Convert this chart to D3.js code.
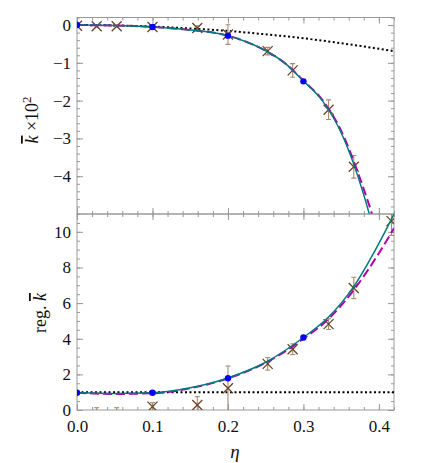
<!DOCTYPE html>
<html>
<head>
<meta charset='utf-8'>
<title>k bar vs eta</title>
<script src='https://d3js.org/d3.v7.min.js'></script>
<style>
  body { margin: 0; background: #fff; }
  svg text { font-family: 'Liberation Serif', 'DejaVu Serif', serif; fill: #111; }
</style>
</head>
<body>
<div id="container"></div>
<script>

// ******* Data *******
// top panel : kbar x 10^2
var topCurveEta   = [0, 0.05, 0.1, 0.15, 0.2, 0.225, 0.25, 0.275, 0.3, 0.325, 0.35, 0.367, 0.38, 0.39, 0.4];
var topTeal       = [0, -0.01, -0.05, -0.13, -0.28, -0.45, -0.68, -1.0, -1.48, -2.0, -2.85, -3.7, -4.5, -5.2, -6.0];
var topMagenta    = [0, -0.01, -0.05, -0.13, -0.28, -0.45, -0.68, -1.0, -1.47, -1.98, -2.8, -3.62, -4.35, -4.95, -5.7];
var topDotEta     = [0, 0.05, 0.1, 0.15, 0.2, 0.25, 0.3, 0.35, 0.42];
var topDotted     = [0, -0.01, -0.04, -0.09, -0.155, -0.245, -0.35, -0.48, -0.69];

// bottom panel : regularised kbar
var botCurveEta   = [0, 0.05, 0.1, 0.15, 0.2, 0.25, 0.3, 0.333, 0.367, 0.4, 0.42];
var botTeal       = [0.97, 0.93, 0.97, 1.25, 1.8, 2.68, 4.07, 5.2, 6.95, 9.35, 11.0];
var botMagenta    = [0.97, 0.9, 0.94, 1.22, 1.78, 2.65, 4.0, 5.1, 6.75, 8.8, 10.2];
var botDotEta     = [0, 0.42];
var botDotted     = [1, 1];

// blue points
var blueEta       = [0, 0.1, 0.2, 0.3];
var blueTop       = [0, -0.05, -0.28, -1.49];
var blueBot       = [0.97, 0.97, 1.78, 4.07];

// brown crosses with error bars
var crossEtaTop   = [0, 0.0261, 0.0526, 0.1, 0.1594, 0.2, 0.2526, 0.2857, 0.3333, 0.3667];
var crossTop      = [-0.02, -0.03, -0.03, -0.05, -0.08, -0.25, -0.69, -1.2, -2.24, -3.75];
var crossTopErr   = [0.02, 0.02, 0.02, 0.04, 0.06, 0.26, 0.1, 0.18, 0.26, 0.3];
var crossEtaBot   = [0.0261, 0.0526, 0.1, 0.1594, 0.2, 0.2526, 0.2857, 0.3333, 0.3667, 0.4167];
var crossBot      = [-0.5, -0.5, 0.19, 0.28, 1.22, 2.59, 3.41, 4.82, 6.85, 10.6];
var crossBotErr   = [0.63, 0.63, 0.22, 0.47, 1.25, 0.35, 0.3, 0.3, 0.6, 0.8];

var xTicks    = [0.0, 0.1, 0.2, 0.3, 0.4];
var topYTicks = [0, -1, -2, -3, -4];
var botYTicks = [0, 2, 4, 6, 8, 10];

// ******* Constants *******
const width = 436, height = 463;
const plotLeft = 77, plotRight = 394, plotTop = 17.5, plotMid = 214, plotBottom = 410;
const teal = "#007b7b", magenta = "#b000b0", brown = "#6b4426", errColor = "#a48c70", frameColor = "#999";
const serif = "'Liberation Serif', 'DejaVu Serif', serif";

var svg = d3.select("#container").append("svg")
  .attr("width", width).attr("height", height);

var x = d3.scaleLinear().domain([0, 0.42]).range([plotLeft, plotRight]);
var yTop = d3.scaleLinear().domain([-5, 0.2]).range([plotMid, plotTop]);
var yBot = d3.scaleLinear().domain([0, 11]).range([plotBottom, plotMid]);

function zip(a, b) { return a.map(function(v, i) { return [v, b[i]]; }); }

function steps(a, b, s) { return d3.range(Math.round((b - a) / s) + 1).map(function(i) { return +(a + i * s).toFixed(4); }); }

function panel(id, y, y0, y1, yMajor, yMinorStep, showX) {
  var g = svg.append("g");
  // clip
  svg.append("clipPath").attr("id", id)
    .append("rect").attr("x", plotLeft).attr("y", y0).attr("width", plotRight - plotLeft).attr("height", y1 - y0);

  var xMinor = steps(0, 0.42, 0.02);
  var yDom = y.domain();
  var yMinor = steps(Math.ceil(yDom[0] / yMinorStep) * yMinorStep, Math.floor(yDom[1] / yMinorStep) * yMinorStep, yMinorStep);

  // minor ticks
  g.append("g").attr("transform", `translate(0,${y1})`)
    .call(d3.axisBottom(x).tickValues(xMinor).tickSize(-3).tickFormat(""));
  g.append("g").attr("transform", `translate(0,${y0})`)
    .call(d3.axisTop(x).tickValues(xMinor).tickSize(-3).tickFormat(""));
  g.append("g").attr("transform", `translate(${plotLeft},0)`)
    .call(d3.axisLeft(y).tickValues(yMinor).tickSize(-3).tickFormat(""));
  g.append("g").attr("transform", `translate(${plotRight},0)`)
    .call(d3.axisRight(y).tickValues(yMinor).tickSize(-3).tickFormat(""));

  // major ticks
  g.append("g").attr("transform", `translate(0,${y1})`)
    .call(d3.axisBottom(x).tickValues(xTicks).tickSize(-6).tickPadding(10)
      .tickFormat(showX ? d3.format(".1f") : ""));
  g.append("g").attr("transform", `translate(0,${y0})`)
    .call(d3.axisTop(x).tickValues(xTicks).tickSize(-6).tickFormat(""));
  g.append("g").attr("transform", `translate(${plotLeft},0)`)
    .call(d3.axisLeft(y).tickValues(yMajor).tickSize(-6).tickPadding(6).tickFormat(d3.format("d")));
  g.append("g").attr("transform", `translate(${plotRight},0)`)
    .call(d3.axisRight(y).tickValues(yMajor).tickSize(-6).tickFormat(""));

  g.selectAll(".domain").remove();
  g.selectAll("g").attr("font-family", serif).attr("font-size", 17);
  g.selectAll(".tick line").attr("stroke", frameColor);
  g.selectAll(".tick text").attr("fill", "#111");

  // frame
  g.append("rect").attr("x", plotLeft).attr("y", y0).attr("width", plotRight - plotLeft).attr("height", y1 - y0)
    .attr("fill", "none").attr("stroke", frameColor).attr("stroke-width", 1);

  return svg.append("g").attr("clip-path", `url(#${id})`);
}

function drawLine(plot, y, xs, ys, color, w, dash) {
  var line = d3.line().x(function(d) { return x(d[0]); }).y(function(d) { return y(d[1]); })
    .curve(d3.curveMonotoneX);
  plot.append("path").datum(zip(xs, ys))
    .attr("d", line).attr("fill", "none").attr("stroke", color).attr("stroke-width", w)
    .attr("stroke-dasharray", dash || null);
}

function drawCrosses(plot, y, xs, ys, errs) {
  var data = xs.map(function(v, i) { return { x: v, y: ys[i], e: errs[i] }; });
  var eg = plot.append("g").attr("stroke", errColor).attr("stroke-width", 1.1).attr("fill", "none");
  data.forEach(function(d) {
    var cx = x(d.x), hi = y(d.y + d.e), lo = y(d.y - d.e);
    eg.append("line").attr("x1", cx).attr("x2", cx).attr("y1", hi).attr("y2", lo);
    eg.append("line").attr("x1", cx - 2.5).attr("x2", cx + 2.5).attr("y1", hi).attr("y2", hi);
    eg.append("line").attr("x1", cx - 2.5).attr("x2", cx + 2.5).attr("y1", lo).attr("y2", lo);
  });
  plot.selectAll(null).data(data).enter().append("path")
    .attr("transform", function(d) { return `translate(${x(d.x)},${y(d.y)})`; })
    .attr("d", "M-5,-5L5,5M-5,5L5,-5")
    .attr("stroke", brown).attr("stroke-width", 1.3).attr("fill", "none");
}

function drawBlue(plot, y, xs, ys) {
  plot.selectAll(null).data(zip(xs, ys)).enter().append("circle")
    .attr("cx", function(d) { return x(d[0]); }).attr("cy", function(d) { return y(d[1]); })
    .attr("r", 3.2).attr("fill", "#0000ff");
}

// ******* Top panel *******
var pTop = panel("clipTop", yTop, plotTop, plotMid, topYTicks, 0.2, false);
drawLine(pTop, yTop, topDotEta, topDotted, "#000", 2, "2,2.5");
drawCrosses(pTop, yTop, crossEtaTop, crossTop, crossTopErr);
drawLine(pTop, yTop, topCurveEta, topMagenta, magenta, 2, "9,4");
drawLine(pTop, yTop, topCurveEta, topTeal, teal, 1.5);
drawBlue(pTop, yTop, blueEta, blueTop);

// ******* Bottom panel *******
var pBot = panel("clipBot", yBot, plotMid, plotBottom, botYTicks, 0.5, true);
drawLine(pBot, yBot, botDotEta, botDotted, "#000", 2, "2,2.5");
drawCrosses(pBot, yBot, crossEtaBot, crossBot, crossBotErr);
drawLine(pBot, yBot, botCurveEta, botMagenta, magenta, 2, "9,4");
drawLine(pBot, yBot, botCurveEta, botTeal, teal, 1.5);
drawBlue(pBot, yBot, blueEta, blueBot);

// ******* Axis titles *******
var t1 = svg.append("text")
  .attr("transform", `translate(38, 120) rotate(-90)`)
  .attr("text-anchor", "middle").attr("font-size", 18);
t1.append("tspan").style("font-style", "italic").style("text-decoration", "overline").text("k");
t1.append("tspan").text(" \u00d710");
t1.append("tspan").attr("dy", -7).attr("font-size", 13).text("2");

var t2 = svg.append("text")
  .attr("transform", `translate(46, 313) rotate(-90)`)
  .attr("text-anchor", "middle").attr("font-size", 18);
t2.append("tspan").text("reg. ");
t2.append("tspan").style("font-style", "italic").style("text-decoration", "overline").text("k");

svg.append("text")
  .attr("x", 235).attr("y", 458)
  .attr("text-anchor", "middle").attr("font-size", 19).style("font-style", "italic")
  .text("\u03b7");

</script>
</body>
</html>
